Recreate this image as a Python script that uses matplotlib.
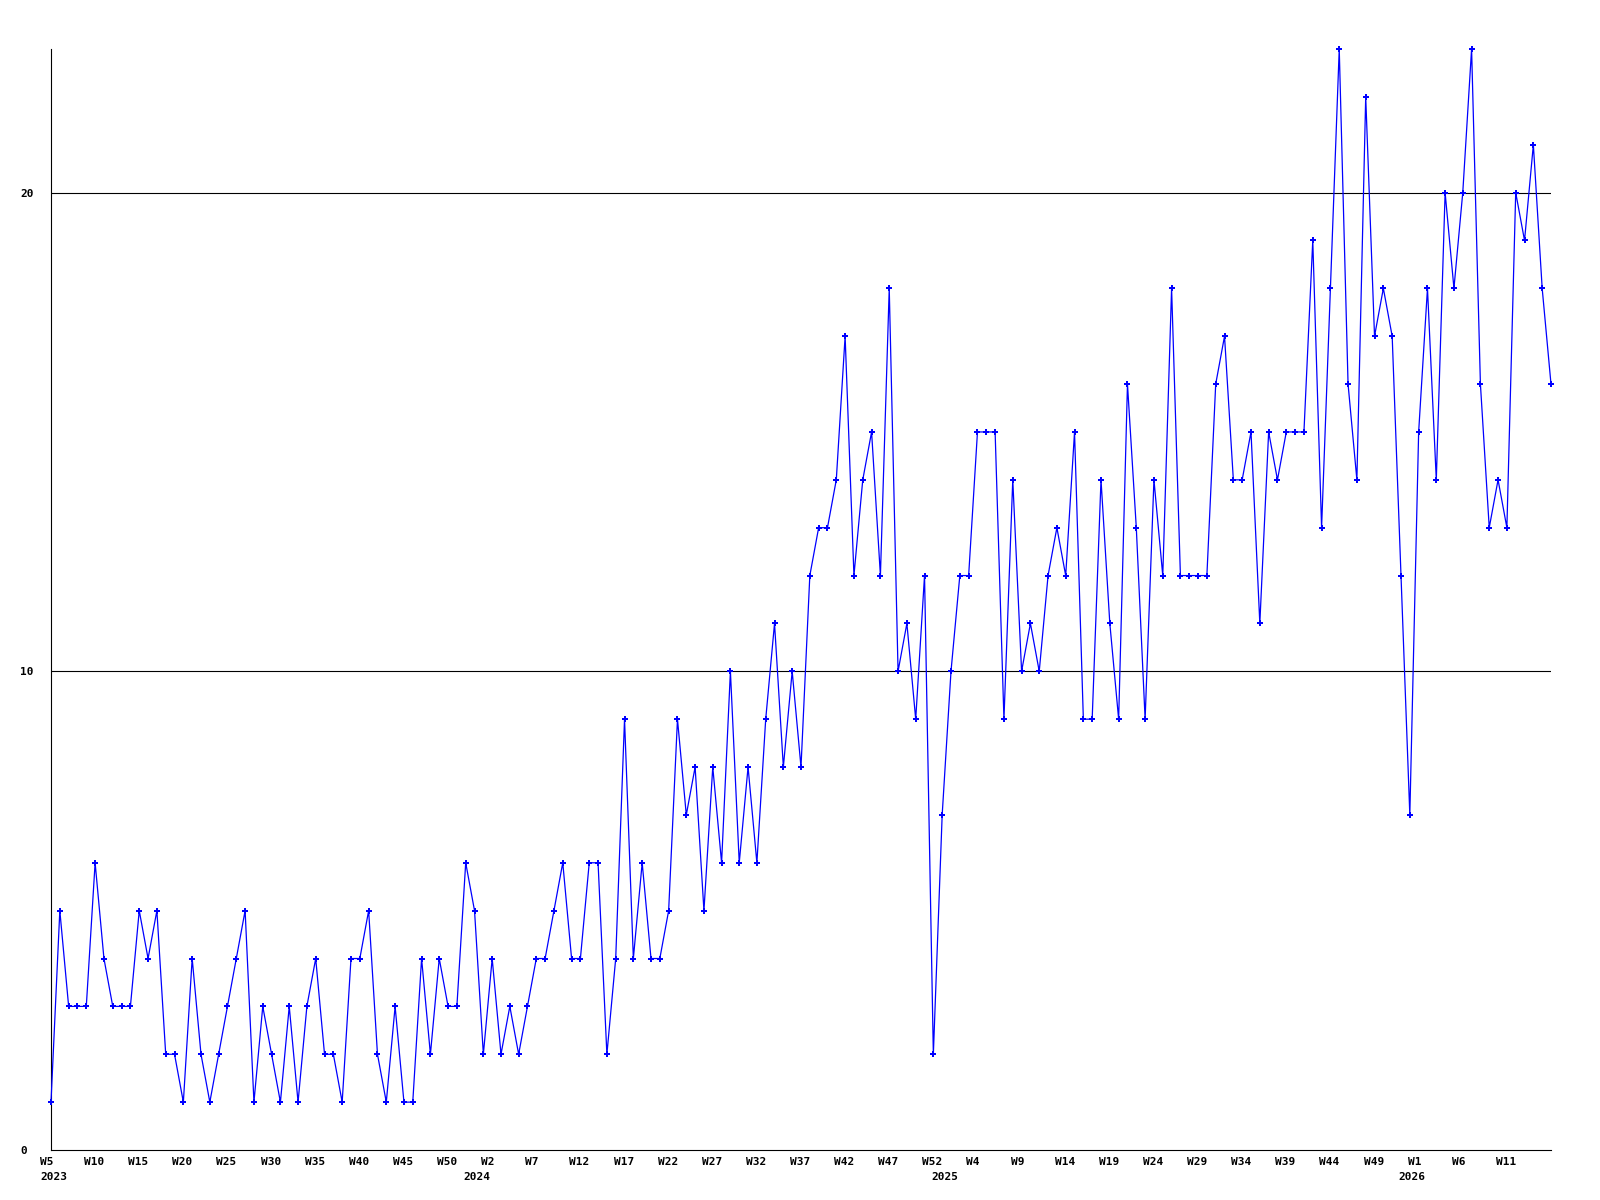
import numpy as np
import matplotlib
matplotlib.use("Agg")
import matplotlib.pyplot as plt
from matplotlib.transforms import ScaledTranslation

# weekly counts, 2023 W5 .. 2026 W16
counts = [
    1, 5, 3, 3, 3, 6, 4, 3, 3, 3, 5, 4, 5, 2, 2, 1, 4, 2, 1, 2,
    3, 4, 5, 1, 3, 2, 1, 3, 1, 3, 4, 2, 2, 1, 4, 4, 5, 2, 1, 3,
    1, 1, 4, 2, 4, 3, 3, 6, 5, 2, 4, 2, 3, 2, 3, 4, 4, 5, 6, 4,
    4, 6, 6, 2, 4, 9, 4, 6, 4, 4, 5, 9, 7, 8, 5, 8, 6, 10, 6, 8,
    6, 9, 11, 8, 10, 8, 12, 13, 13, 14, 17, 12, 14, 15, 12, 18, 10, 11, 9, 12,
    2, 7, 10, 12, 12, 15, 15, 15, 9, 14, 10, 11, 10, 12, 13, 12, 15, 9, 9, 14,
    11, 9, 16, 13, 9, 14, 12, 18, 12, 12, 12, 12, 16, 17, 14, 14, 15, 11, 15, 14,
    15, 15, 15, 19, 13, 18, 23, 16, 14, 22, 17, 18, 17, 12, 7, 15, 18, 14, 20, 18,
    20, 23, 16, 13, 14, 13, 20, 19, 21, 18, 16,
]

# (year, week) for each point
weeks = ([(2023, w) for w in range(5, 54)] + [(2024, w) for w in range(1, 54)]
         + [(2025, w) for w in range(1, 54)] + [(2026, w) for w in range(1, 17)])

y_ticks = [0, 10, 20]

FONT = dict(family="DejaVu Sans Mono", weight="bold", size=8)


def main():
    fig = plt.figure(figsize=(16, 12), dpi=100)
    ax = fig.add_axes([51 / 1600, 50 / 1200, 1500 / 1600, 1101 / 1200])

    x = np.arange(len(counts))
    ax.plot(x, counts, color="#0000ff", lw=0.9, marker="P", ms=3.8, mew=0,
            clip_on=False, zorder=3)

    for v in y_ticks[1:]:
        ax.axhline(v, color="black", lw=0.8, zorder=1)

    ax.set_xlim(0, len(counts) - 1)
    ax.set_ylim(0, 23)

    for side in ["top", "right"]:
        ax.spines[side].set_visible(False)
    for side in ["left", "bottom"]:
        ax.spines[side].set_color("black")
        ax.spines[side].set_linewidth(0.8)

    # y labels, left aligned near the figure edge
    ax.set_yticks(y_ticks)
    ax.set_yticklabels([str(v) for v in y_ticks], fontdict=FONT)
    ax.tick_params(axis="y", length=0, pad=22.3)
    for lbl in ax.get_yticklabels():
        lbl.set_horizontalalignment("left")

    # week labels every 5 points (none on the very last point)
    pos = x[:-1:5]
    ax.set_xticks(pos)
    ax.set_xticklabels([f"W{weeks[i][1]}" for i in pos], fontdict=FONT)
    ax.tick_params(axis="x", length=0, pad=5)
    shift = ScaledTranslation(-11 / 100, 0, fig.dpi_scale_trans)
    for lbl in ax.get_xticklabels():
        lbl.set_horizontalalignment("left")
        lbl.set_transform(lbl.get_transform() + shift)

    # year labels at the start and at the last week of each year
    year_idx = [0] + [i for i in range(len(weeks) - 1) if weeks[i + 1][1] == 1]
    for i in year_idx:
        yr = weeks[i + 1][0] if i > 0 else weeks[0][0]
        ax.annotate(str(yr), xy=(i, 0), xycoords=("data", "axes fraction"),
                    xytext=(-7.9, -15.5), textcoords="offset points",
                    ha="left", va="top", **FONT)

    fig.savefig("out.png", dpi=100)


if __name__ == "__main__":
    main()
